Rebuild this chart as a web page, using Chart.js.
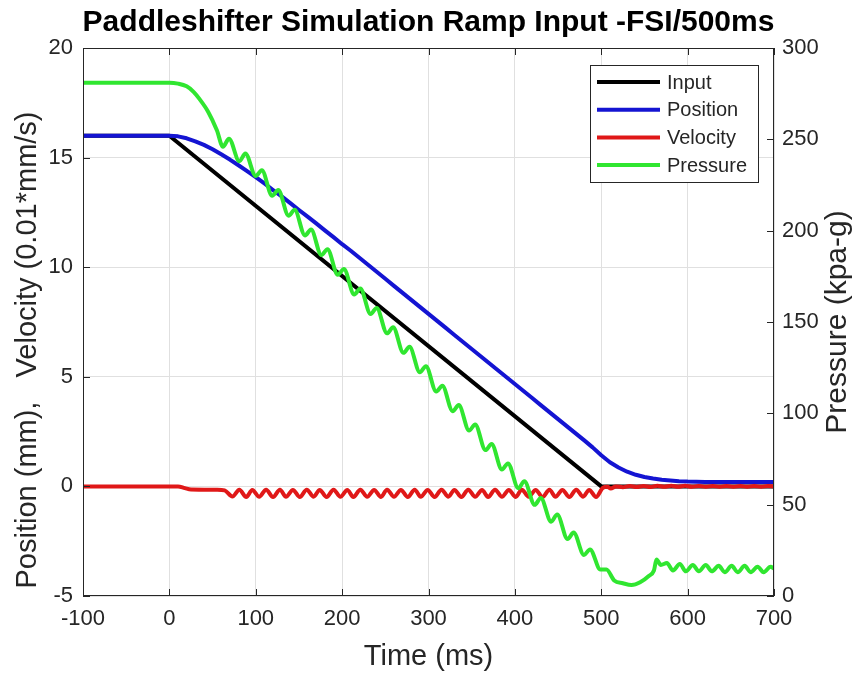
<!DOCTYPE html>
<html>
<head>
<meta charset="utf-8">
<script src="https://cdn.jsdelivr.net/npm/chart.js@4.4.1/dist/chart.umd.min.js"></script>
<style>
  html, body { margin: 0; padding: 0; background: #fff; }
  #wrap { width: 868px; height: 675px; }
</style>
</head>
<body>
<div id="wrap"><canvas id="chart" width="868" height="675"></canvas></div>
<script>
// Chart data
const xTicks = [-100, 0, 100, 200, 300, 400, 500, 600, 700];
const leftTicks = [-5, 0, 5, 10, 15, 20];
const rightTicks = [0, 50, 100, 150, 200, 250, 300];

// Input ramp
const inputT = [-100, 0, 500, 700];
const inputV = [16, 16, 0, 0];

// Position (mm)
const posT = [-100, 0, 10, 20, 30, 40, 50, 60, 70, 80, 90, 100, 110, 120, 130, 140, 150, 160, 170, 180, 190,
  200, 210, 220, 230, 240, 250, 260, 270, 280, 290, 300, 310, 320, 330, 340, 350, 360, 370, 380, 390,
  400, 410, 420, 430, 440, 450, 460, 470, 480, 490, 500, 510, 520, 530, 540, 550, 560, 570, 580, 590,
  600, 610, 620, 630, 640, 650, 660, 670, 680, 690, 700];
const posV = [16.00, 16.00, 15.97, 15.88, 15.74, 15.58, 15.38, 15.15, 14.91, 14.65, 14.38, 14.11, 13.82, 13.52, 13.23, 12.92, 12.61, 12.31, 12.00, 11.68, 11.37,
  11.05, 10.75, 10.43, 10.11, 9.79, 9.47, 9.15, 8.83, 8.51, 8.19, 7.87, 7.55, 7.23, 6.91, 6.59, 6.27, 5.95, 5.63, 5.31, 4.99,
  4.67, 4.35, 4.03, 3.71, 3.39, 3.07, 2.75, 2.43, 2.11, 1.78, 1.42, 1.10, 0.86, 0.67, 0.53, 0.43, 0.36, 0.30, 0.27, 0.24,
  0.22, 0.21, 0.20, 0.20, 0.20, 0.20, 0.20, 0.20, 0.20, 0.20, 0.20];

// Velocity (0.01*mm/s)
const velT = [-100, 10, 18, 25, 55, 64,
  73, 81, 89, 96, 104, 112, 120, 128, 135, 143, 151, 159, 167, 174, 182, 190, 198, 206, 213, 221,
  229, 237, 245, 252, 260, 268, 276, 284, 291, 299, 307, 315, 323, 330, 338, 346, 354, 362, 369, 377,
  385, 393, 401, 408, 416, 424, 432, 440, 447, 455, 463, 471, 479, 486, 494,
  502, 507, 511, 517, 525, 533, 541, 549, 557, 565, 573, 581, 589, 597, 605, 613, 621, 629, 637, 645,
  653, 661, 669, 677, 685, 693, 700];
const velV = [0, 0, -0.08, -0.14, -0.15, -0.18,
  -0.46, -0.15, -0.48, -0.16, -0.47, -0.15, -0.48, -0.15, -0.47, -0.16, -0.48, -0.15, -0.47, -0.16, -0.48, -0.15, -0.47, -0.16, -0.48, -0.15,
  -0.47, -0.16, -0.48, -0.15, -0.47, -0.16, -0.48, -0.15, -0.47, -0.16, -0.48, -0.15, -0.47, -0.16, -0.48, -0.15, -0.47, -0.16, -0.48, -0.15,
  -0.47, -0.16, -0.48, -0.15, -0.47, -0.16, -0.48, -0.15, -0.47, -0.16, -0.48, -0.15, -0.47, -0.16, -0.48,
  -0.06, -0.02, -0.10, 0.00, -0.04, 0.02, -0.03, 0.02, -0.03, 0.03, -0.02, 0.03, -0.02, 0.03, -0.02, 0.02, -0.02, 0.02, -0.02, 0.02,
  -0.02, 0.02, -0.02, 0.02, -0.02, 0.02, 0.00];

// Pressure (kpa-g), right axis
const presT = [-100, 0, 10, 20, 28, 35, 45, 55,
  62, 69, 81, 88, 100, 107, 119, 126, 138, 145, 157, 164, 176, 183, 195, 202, 214, 221, 233, 240,
  252, 259, 271, 278, 290, 297, 309, 316, 328, 335, 347, 354, 366, 373, 385, 392, 404, 411, 423, 430,
  442, 449, 461, 468, 480, 487, 499, 506,
  515, 525, 535, 545, 555, 561, 564, 569,
  576, 583, 591, 598, 606, 613, 621, 628, 636, 643, 651, 658, 666, 673, 681, 688, 696, 700];
const presV = [281, 281, 280.5, 279, 276, 272, 265, 255,
  246.0, 250.3, 238.0, 242.2, 229.9, 233.1, 219.1, 222.3, 208.2, 211.4, 197.4, 200.6, 186.6, 189.8, 175.8, 179.0, 165.1, 168.3, 154.4, 157.7,
  143.8, 147.1, 133.1, 136.4, 122.5, 125.8, 111.9, 115.1, 101.2, 104.5, 90.6, 93.9, 79.9, 83.2, 69.3, 72.6, 59.0, 62.8, 49.9, 53.7,
  40.7, 44.6, 31.2, 34.7, 22.5, 25.5, 14.5, 14.5,
  8.5, 7, 6, 7.5, 11, 14, 20, 17,
  18, 14, 17.5, 13.5, 17, 13.5, 17, 13.5, 16.5, 13, 16.5, 13, 16.5, 13, 16, 13, 16, 15];

const FONT = "'Liberation Sans', Arial, Helvetica, sans-serif";
const AXIS_COLOR = '#262626';

function toPoints(xs, ys) {
    return xs.map((x, i) => ({ x: x, y: ys[i] }));
}

// MATLAB-like frame: box, inward ticks, legend inside the axes, titles
const matlabFrame = {
    id: 'matlabFrame',
    afterDatasetsDraw(chart) {
        const { ctx, chartArea: a, scales } = chart;
        ctx.save();
        ctx.strokeStyle = AXIS_COLOR;
        ctx.lineWidth = 1;
        ctx.strokeRect(a.left + 0.5, a.top + 0.5, a.right - a.left - 1, a.bottom - a.top - 1);

        const tl = 7;
        ctx.beginPath();
        scales.x.ticks.forEach(t => {
            const px = Math.round(scales.x.getPixelForValue(t.value)) + 0.5;
            ctx.moveTo(px, a.bottom); ctx.lineTo(px, a.bottom - tl);
            ctx.moveTo(px, a.top); ctx.lineTo(px, a.top + tl);
        });
        scales.y.ticks.forEach(t => {
            const py = Math.round(scales.y.getPixelForValue(t.value)) + 0.5;
            ctx.moveTo(a.left, py); ctx.lineTo(a.left + tl, py);
        });
        scales.y1.ticks.forEach(t => {
            const py = Math.round(scales.y1.getPixelForValue(t.value)) + 0.5;
            ctx.moveTo(a.right, py); ctx.lineTo(a.right - tl, py);
        });
        ctx.stroke();

        // legend box
        const bw = 168, bh = 117;
        const bx = a.right - 16 - bw, by = a.top + 17;
        ctx.fillStyle = '#fff';
        ctx.fillRect(bx, by, bw, bh);
        ctx.strokeRect(bx + 0.5, by + 0.5, bw, bh);
        ctx.font = '20px ' + FONT;
        ctx.textBaseline = 'middle';
        ctx.textAlign = 'left';
        chart.data.datasets.forEach((ds, i) => {
            const ry = by + 17 + i * 27.7;
            ctx.strokeStyle = ds.borderColor;
            ctx.lineWidth = 4;
            ctx.beginPath();
            ctx.moveTo(bx + 7, ry); ctx.lineTo(bx + 70, ry);
            ctx.stroke();
            ctx.fillStyle = AXIS_COLOR;
            ctx.fillText(ds.label, bx + 77, ry + 1);
        });
        ctx.restore();
    },
    afterDraw(chart) {
        const { ctx, chartArea: a } = chart;
        ctx.save();
        ctx.font = 'bold 30px ' + FONT;
        ctx.fillStyle = '#000';
        ctx.textAlign = 'center';
        ctx.textBaseline = 'middle';
        ctx.fillText('Paddleshifter Simulation Ramp Input -FSI/500ms', (a.left + a.right) / 2, 23);

        // y-axis titles, both read bottom to top
        ctx.fillStyle = AXIS_COLOR;
        ctx.font = '29px ' + FONT;
        ctx.translate(28, 350);
        ctx.rotate(-Math.PI / 2);
        ctx.fillText('Position (mm),   Velocity (0.01*mm/s)', 0, 0);
        ctx.setTransform(1, 0, 0, 1, 0, 0);
        ctx.font = '30px ' + FONT;
        ctx.translate(838, 322);
        ctx.rotate(-Math.PI / 2);
        ctx.fillText('Pressure (kpa-g)', 0, 0);
        ctx.restore();
    }
};

function initChart() {
    const ctx = document.getElementById('chart').getContext('2d');
    new Chart(ctx, {
        type: 'line',
        data: {
            datasets: [
                { label: 'Input', data: toPoints(inputT, inputV), borderColor: '#000000', yAxisID: 'y', order: 4, tension: 0 },
                { label: 'Position', data: toPoints(posT, posV), borderColor: '#1414d2', yAxisID: 'y', order: 3, tension: 0 },
                { label: 'Velocity', data: toPoints(velT, velV), borderColor: '#e01818', yAxisID: 'y', order: 2, cubicInterpolationMode: 'monotone' },
                { label: 'Pressure', data: toPoints(presT, presV), borderColor: '#30e630', yAxisID: 'y1', order: 1, cubicInterpolationMode: 'monotone' }
            ]
        },
        options: {
            responsive: false,
            animation: false,
            layout: { padding: { top: 48 } },
            elements: {
                point: { radius: 0 },
                line: { borderWidth: 4, borderCapStyle: 'round', borderJoinStyle: 'round' }
            },
            plugins: {
                legend: { display: false },
                title: { display: false },
                tooltip: { enabled: false }
            },
            scales: {
                x: {
                    type: 'linear',
                    min: -100, max: 700,
                    afterBuildTicks: s => { s.ticks = xTicks.map(v => ({ value: v })); },
                    afterFit: s => { s.height = 79; },
                    grid: { color: '#e0e0e0', drawTicks: false },
                    border: { display: false },
                    ticks: { padding: 10, color: AXIS_COLOR, font: { family: FONT, size: 22 }, maxRotation: 0 },
                    title: { display: true, text: 'Time (ms)', color: AXIS_COLOR, font: { family: FONT, size: 29 }, padding: { bottom: 1, top: 0 } }
                },
                y: {
                    position: 'left',
                    min: -5, max: 20,
                    afterBuildTicks: s => { s.ticks = leftTicks.map(v => ({ value: v })); },
                    afterFit: s => { s.width = 83; },
                    grid: { color: '#e0e0e0', drawTicks: false },
                    border: { display: false },
                    ticks: { padding: 10, color: AXIS_COLOR, font: { family: FONT, size: 22 } }
                },
                y1: {
                    position: 'right',
                    min: 0, max: 300,
                    afterBuildTicks: s => { s.ticks = rightTicks.map(v => ({ value: v })); },
                    afterFit: s => { s.width = 94; },
                    grid: { display: false, drawTicks: false },
                    border: { display: false },
                    ticks: { padding: 8, color: AXIS_COLOR, font: { family: FONT, size: 22 } }
                }
            }
        },
        plugins: [matlabFrame]
    });
}

document.addEventListener('DOMContentLoaded', initChart);
</script>
</body>
</html>
